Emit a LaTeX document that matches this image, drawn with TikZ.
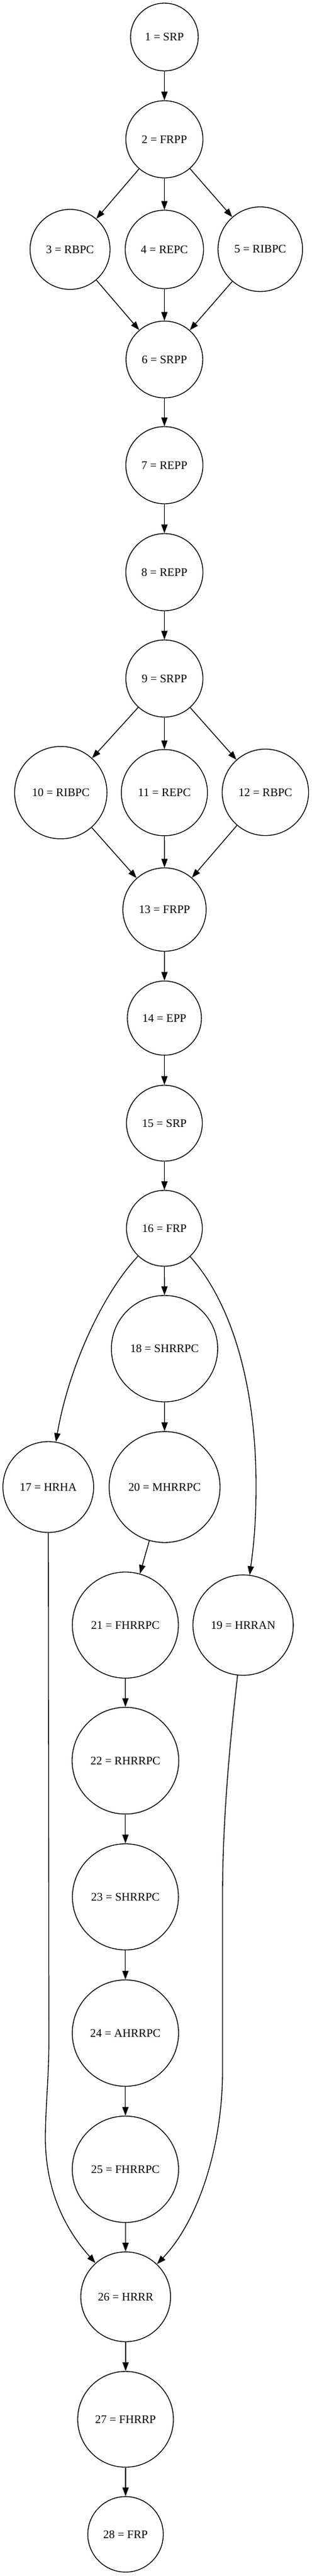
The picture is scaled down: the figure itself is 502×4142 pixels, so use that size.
\documentclass[tikz,border=0pt]{standalone}
\usepackage{fontspec}
\setmainfont{Liberation Serif}
\usetikzlibrary{arrows.meta}
\begin{document}
\begin{tikzpicture}[x=1pt,y=-1pt,
  vtx/.style={circle,draw,line width=1.33pt,inner sep=0pt,font=\fontsize{18.67}{22}\selectfont},
  arr/.style={line width=1.33pt,-{Triangle[length=14pt,width=10pt]}}]
\useasboundingbox (0,0) rectangle (502,4142);
\node[vtx,minimum size=109pt] (n1) at (264.5,59.5) {1 = SRP};
\node[vtx,minimum size=124pt] (n2) at (264.5,224) {2 = FRPP};
\node[vtx,minimum size=128.6pt] (n3) at (112.7,401) {3 = RBPC};
\node[vtx,minimum size=126pt] (n4) at (264.5,401) {4 = REPC};
\node[vtx,minimum size=136pt] (n5) at (418.8,400.7) {5 = RIBPC};
\node[vtx,minimum size=123.4pt] (n6) at (264.5,578) {6 = SRPP};
\node[vtx,minimum size=124pt] (n7) at (264.5,748) {7 = REPP};
\node[vtx,minimum size=124pt] (n8) at (264.5,920) {8 = REPP};
\node[vtx,minimum size=124pt] (n9) at (264.5,1091) {9 = SRPP};
\node[vtx,minimum size=148.6pt] (n10) at (97.8,1274.5) {10 = RIBPC};
\node[vtx,minimum size=138.6pt] (n11) at (264.5,1274.5) {11 = REPC};
\node[vtx,minimum size=139pt] (n12) at (427,1274) {12 = RBPC};
\node[vtx,minimum size=134pt] (n13) at (264.7,1462.5) {13 = FRPP};
\node[vtx,minimum size=119.2pt] (n14) at (264.5,1637) {14 = EPP};
\node[vtx,minimum size=122pt] (n15) at (264.5,1806) {15 = SRP};
\node[vtx,minimum size=122pt] (n16) at (264.5,1975) {16 = FRP};
\node[vtx,minimum size=171pt] (n18) at (264.7,2168.5) {18 = SHRRPC};
\node[vtx,minimum size=146pt] (n17) at (77.7,2391) {17 = HRHA};
\node[vtx,minimum size=178.4pt] (n20) at (264.8,2391) {20 = MHRRPC};
\node[vtx,minimum size=170.6pt] (n21) at (201.7,2613) {21 = FHRRPC};
\node[vtx,minimum size=161.4pt] (n19) at (391.2,2613) {19 = HRRAN};
\node[vtx,minimum size=171.6pt] (n22) at (201.8,2831) {22 = RHRRPC};
\node[vtx,minimum size=170.6pt] (n23) at (201.8,3050) {23 = SHRRPC};
\node[vtx,minimum size=171pt] (n24) at (201.8,3269) {24 = AHRRPC};
\node[vtx,minimum size=171pt] (n25) at (201.8,3488) {25 = FHRRPC};
\node[vtx,minimum size=144.4pt] (n26) at (202.2,3693) {26 = HRRR};
\node[vtx,minimum size=154pt] (n27) at (202,3890) {27 = FHRRP};
\node[vtx,minimum size=121.4pt] (n28) at (202,4075) {28 = FRP};
\draw[arr] (n1) -- (n2);
\draw[arr] (n2) -- (n3);
\draw[arr] (n2) -- (n4);
\draw[arr] (n2) -- (n5);
\draw[arr] (n3) -- (n6);
\draw[arr] (n4) -- (n6);
\draw[arr] (n5) -- (n6);
\draw[arr] (n6) -- (n7);
\draw[arr] (n7) -- (n8);
\draw[arr] (n8) -- (n9);
\draw[arr] (n9) -- (n10);
\draw[arr] (n9) -- (n11);
\draw[arr] (n9) -- (n12);
\draw[arr] (n10) -- (n13);
\draw[arr] (n11) -- (n13);
\draw[arr] (n12) -- (n13);
\draw[arr] (n13) -- (n14);
\draw[arr] (n14) -- (n15);
\draw[arr] (n15) -- (n16);
\draw[arr] (n16) .. controls (165,2080) and (110,2200) .. (n17);
\draw[arr] (n16) -- (n18);
\draw[arr] (n16) .. controls (360,2080) and (412,2200) .. (412,2390)
  .. controls (412,2460) and (406,2500) .. (n19);
\draw[arr] (n18) -- (n20);
\draw[arr] (n20) -- (n21);
\draw[arr] (n21) -- (n22);
\draw[arr] (n22) -- (n23);
\draw[arr] (n23) -- (n24);
\draw[arr] (n24) -- (n25);
\draw[arr] (n17) -- (78.7,3280) .. controls (78.7,3340) and (73,3390) .. (73,3440)
  .. controls (74,3530) and (110,3590) .. (n26);
\draw[arr] (n19) .. controls (376,2750) and (358,2900) .. (358,3050) -- (358,3330)
  .. controls (358,3450) and (320,3570) .. (n26);
\draw[arr] (n25) -- (n26);
\draw[arr] (n26) -- (n27);
\draw[arr] (n27) -- (n28);
\end{tikzpicture}
\end{document}
